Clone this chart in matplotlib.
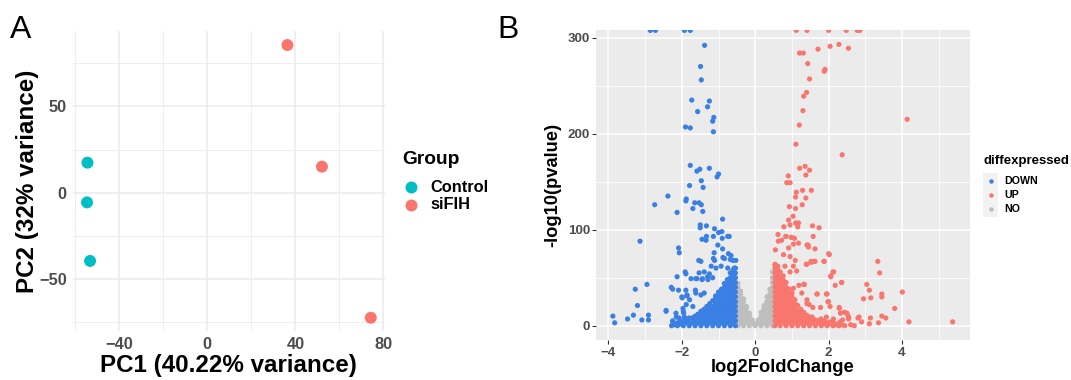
import matplotlib

matplotlib.use("Agg")
import matplotlib.pyplot as plt
from matplotlib.lines import Line2D
from matplotlib.patches import Rectangle

plt.rcParams["font.family"] = ["Liberation Sans", "DejaVu Sans"]

W, H = 1071, 380

# ---- panel A: PCA ----
pca_group = ["Control", "Control", "Control", "siFIH", "siFIH", "siFIH"]
pc1 = [-54.5, -54.7, -53.3, 36.4, 52.1, 74.3]
pc2 = [17.4, -5.6, -39.5, 85.5, 15.1, -72.4]
group_names = ["Control", "siFIH"]
group_colors = ["#00BFC4", "#F8766D"]

# ---- panel B: volcano (log2FoldChange, -log10 pvalue) ----
down_points = [
    (-2.86, 307.6), (-2.72, 307.6), (-1.93, 307.6), (-1.77, 307.6),
    (-1.38, 292), (-1.49, 270), (-1.47, 256), (-1.73, 235), (-1.25, 234),
    (-1.30, 228), (-1.57, 223), (-1.13, 217), (-1.16, 213), (-1.90, 207),
    (-1.77, 206), (-1.14, 202), (-1.77, 167), (-1.25, 164), (-1.51, 163),
    (-1.59, 161), (-1.00, 158), (-1.04, 155), (-1.47, 151), (-1.79, 146),
    (-1.42, 144), (-2.38, 135), (-1.88, 132), (-1.89, 130), (-1.65, 128),
    (-1.53, 128), (-1.47, 126), (-2.74, 126), (-2.13, 118), (-1.70, 122),
    (-1.43, 119), (-0.89, 111), (-1.50, 105), (-1.50, 102), (-1.33, 104),
    (-1.11, 101), (-1.00, 97), (-0.91, 98), (-0.71, 93), (-3.14, 88),
    (-1.45, 90), (-1.33, 93), (-1.14, 93), (-2.09, 81), (-2.07, 76),
    (-1.54, 68), (-1.48, 67), (-0.89, 80), (-1.12, 76), (-1.14, 70),
    (-0.88, 71), (-0.53, 68), (-0.73, 75), (-0.68, 69), (-1.91, 56),
    (-1.89, 54), (-2.13, 51), (-1.75, 49), (-1.59, 49), (-1.45, 48),
    (-1.29, 48), (-2.95, 43), (-3.27, 38), (-2.29, 40), (-2.25, 38),
    (-2.09, 37), (-1.89, 37), (-1.63, 37), (-2.00, 30), (-1.86, 31),
    (-3.21, 21), (-1.97, 18), (-2.43, 15), (-3.88, 10), (-3.32, 11),
    (-2.91, 11), (-3.83, 3), (-3.48, 7), (-3.09, 6), (-2.91, 6),
    (-2.25, 4), (-2.15, 9), (-1.95, 13), (-1.34, 89), (-1.02, 84),
    (-0.90, 91), (-0.75, 93), (-0.66, 73), (-0.61, 68), (-1.11, 68),
    (-0.84, 70), (-1.20, 62), (-1.07, 60), (-0.93, 62), (-0.75, 60),
    (-0.57, 60), (-1.53, 55), (-1.39, 56), (-1.25, 54), (-1.62, 49),
    (-1.44, 49), (-1.30, 51), (-1.16, 50), (-1.99, 29), (-1.86, 32),
    (-1.79, 27), (-1.62, 34), (-1.48, 32), (-1.39, 34), (-1.88, 22),
    (-1.70, 20), (-2.16, 13), (-1.96, 15), (-2.25, 5), (-2.07, 8),
    (-1.93, 9), (-2.43, 16),
]
down_core = {
    -0.54: [0, 5, 10, 15, 20, 25, 30, 35, 40, 45, 50, 55, 60],
    -0.61: [3, 8, 13, 18, 23, 28, 33, 38, 43, 48, 53, 58],
    -0.68: [0, 5, 10, 15, 20, 25, 30, 35, 40, 45, 50, 55],
    -0.76: [3, 8, 13, 18, 23, 28, 33, 38, 43, 48],
    -0.84: [0, 5, 10, 15, 20, 25, 30, 35, 40, 44],
    -0.92: [3, 8, 13, 18, 23, 28, 33, 38],
    -1.00: [0, 5, 10, 15, 20, 25, 30, 35],
    -1.08: [3, 8, 13, 18, 23, 28, 31],
    -1.16: [0, 5, 10, 15, 20, 26],
    -1.24: [3, 8, 13, 18, 23],
    -1.32: [0, 5, 10, 15, 20],
    -1.40: [3, 8, 13, 17],
    -1.48: [0, 5, 10, 15],
    -1.56: [3, 8, 12],
    -1.64: [0, 5, 10],
    -1.72: [3, 8],
    -1.80: [0, 5, 8],
    -1.88: [3, 6],
    -1.96: [0, 5],
    -2.04: [2, 4],
    -2.12: [0, 3],
    -2.20: [1],
    -2.28: [0],
}
up_points = [
    (1.12, 307.6), (1.41, 307.6), (2.00, 307.6), (2.48, 307.6), (2.78, 307.6),
    (2.85, 307.6), (1.21, 284), (1.31, 284), (1.71, 288), (2.04, 291),
    (2.28, 293), (2.54, 289), (1.43, 273), (1.90, 267), (1.88, 265),
    (1.48, 257), (1.40, 243), (1.32, 239), (1.30, 224), (1.20, 209),
    (1.11, 189), (4.14, 215), (2.37, 178), (0.90, 156), (0.86, 149),
    (0.95, 149), (1.21, 164), (1.36, 166), (1.48, 162), (1.38, 157),
    (1.12, 139), (1.29, 141), (1.53, 141), (1.38, 133), (1.10, 134),
    (1.28, 126), (0.93, 124), (1.10, 122), (1.03, 114), (0.91, 110),
    (1.10, 107), (1.18, 107), (0.95, 105), (0.78, 103), (1.16, 103),
    (1.56, 104), (1.74, 102), (0.62, 95), (0.84, 93), (0.98, 92),
    (1.07, 91), (1.58, 93), (1.44, 84), (1.45, 82), (1.63, 80),
    (2.02, 74), (1.39, 64), (1.53, 66), (1.63, 67), (1.88, 67),
    (3.34, 67), (3.39, 55), (2.06, 52), (2.12, 56), (2.18, 42),
    (2.36, 45), (3.04, 43), (3.11, 37), (3.45, 33), (3.45, 30),
    (3.15, 29), (2.95, 28), (4.01, 35), (1.69, 33), (1.94, 33),
    (1.34, 43), (2.00, 25), (2.04, 20), (1.57, 19), (1.41, 23),
    (2.29, 18), (2.43, 14), (3.80, 18), (2.53, 10), (2.83, 9),
    (3.45, 10), (3.56, 8), (3.14, 8), (4.19, 4), (5.38, 4),
    (2.90, 4), (3.11, 2), (3.36, 3), (2.32, 4), (2.18, 2),
    (2.54, 7), (2.13, 7), (2.38, 6), (1.79, 7), (2.80, 8),
    (0.55, 79), (0.63, 88), (0.72, 89), (0.83, 93), (0.99, 92),
    (1.04, 85), (1.18, 86), (0.91, 81), (1.41, 84), (2.00, 75),
    (0.77, 74), (0.95, 72), (1.09, 68), (1.41, 64), (1.52, 67),
    (1.61, 67), (1.87, 67), (0.54, 63), (0.60, 60), (0.81, 62),
    (0.95, 56), (1.04, 62), (1.13, 57), (2.14, 56), (2.06, 51),
    (2.35, 45), (1.19, 42), (1.32, 43), (1.04, 39), (1.27, 34),
    (1.68, 33), (1.96, 33), (1.41, 27), (1.47, 22), (1.98, 25),
    (1.78, 19), (2.29, 19), (2.32, 13), (2.50, 13), (1.27, 11),
    (1.55, 9), (1.94, 9), (2.55, 8),
]
up_core = {
    0.54: [0, 5, 10, 15, 20, 25, 30, 35, 40, 45, 50, 55, 60, 64],
    0.61: [3, 8, 13, 18, 23, 28, 33, 38, 43, 48, 53, 58, 62],
    0.68: [0, 5, 10, 15, 20, 25, 30, 35, 40, 45, 50, 56],
    0.76: [3, 8, 13, 18, 23, 28, 33, 38, 43, 48, 52],
    0.84: [0, 5, 10, 15, 20, 25, 30, 35, 40, 45],
    0.92: [3, 8, 13, 18, 23, 28, 33, 38],
    1.00: [0, 5, 10, 15, 20, 25, 30, 34],
    1.08: [3, 8, 13, 18, 23, 27],
    1.16: [0, 5, 10, 15, 21],
    1.24: [3, 8, 13, 17],
    1.32: [0, 5, 10, 14],
    1.40: [3, 8, 11],
    1.48: [0, 5, 9],
    1.56: [3, 7],
    1.64: [0, 6],
    1.72: [3, 5],
    1.80: [0, 4],
    1.88: [2, 5],
    1.96: [0, 3],
    2.04: [2, 4],
    2.12: [0, 3],
    2.20: [1],
    2.28: [0, 2],
    2.36: [1],
    2.44: [0],
    2.60: [1],
    2.70: [0],
}
no_core = {
    -0.47: [0, 5, 10, 15, 20, 25, 30, 35, 40, 44],
    -0.40: [3, 8, 13, 18, 23, 28, 33, 36],
    -0.32: [0, 5, 10, 15, 20, 25, 28],
    -0.24: [3, 8, 13, 18, 20],
    -0.16: [0, 5, 10, 13],
    -0.08: [2, 6],
    0.00: [0, 2],
    0.08: [2, 6],
    0.16: [0, 5, 10, 14],
    0.24: [3, 8, 13, 18, 21],
    0.32: [0, 5, 10, 15, 20, 25, 30],
    0.40: [3, 8, 13, 18, 23, 28, 33, 38],
    0.47: [0, 5, 10, 15, 20, 25, 30, 35, 40, 45, 50, 56],
}
diff_levels = ["DOWN", "UP", "NO"]
diff_colors = ["#3A7FE3", "#F8766D", "#BEBEBE"]


def unpack(points, core):
    xs = [p[0] for p in points]
    ys = [p[1] for p in points]
    for x, col in core.items():
        xs += [x] * len(col)
        ys += col
    return xs, ys


def fx(px):
    return px / W


def fy(py):
    return 1 - py / H


fig = plt.figure(figsize=(W / 100, H / 100), dpi=100)

# ---------------- A ----------------
axA = fig.add_axes([fx(72.7), fy(331.4), 312.4 / W, 300 / H])
axA.set_xlim(-61.2, 80.8)
axA.set_ylim(-80.3, 93.4)
for s in axA.spines.values():
    s.set_visible(False)
axA.set_xticks([-40, 0, 40, 80])
axA.set_yticks([-50, 0, 50])
axA.set_xticks([-60, -20, 20, 60], minor=True)
axA.set_yticks([-75, -25, 25, 75], minor=True)
axA.grid(True, which="major", color="#EBEBEB", lw=1.1)
axA.grid(True, which="minor", color="#EBEBEB", lw=0.6)
axA.set_axisbelow(True)
axA.tick_params(which="both", length=0, pad=4.3, labelsize=11.8, labelcolor="#4D4D4D")
for lab in axA.get_xticklabels() + axA.get_yticklabels():
    lab.set_fontweight("bold")
for g, c in zip(group_names, group_colors):
    xs = [x for x, gg in zip(pc1, pca_group) if gg == g]
    ys = [y for y, gg in zip(pc2, pca_group) if gg == g]
    axA.scatter(xs, ys, s=74, color=c, edgecolors="none", zorder=3)
axA.set_xlabel("PC1 (40.22% variance)", fontsize=17.4, fontweight="bold", va="center")
axA.xaxis.set_label_coords(0.5, -0.115)
axA.set_ylabel("PC2 (32% variance)", fontsize=17.4, fontweight="bold", va="center")
axA.yaxis.set_label_coords(-0.145, 0.5)

# legend A
fig.text(fx(402), fy(160), "Group", fontsize=13.8, fontweight="bold", va="center")
for i, (g, c) in enumerate(zip(group_names, group_colors)):
    yy = 187 + i * 17.7
    fig.add_artist(Line2D([fx(410.7)], [fy(yy)], marker="o", ms=8.6, color=c,
                          mec="none", transform=fig.transFigure))
    fig.text(fx(430), fy(yy), g, fontsize=11.8, fontweight="bold", va="center")

# ---------------- B ----------------
axB = fig.add_axes([fx(596), fy(340), 373.5 / W, 310 / H])
axB.set_facecolor("#EBEBEB")
for s in axB.spines.values():
    s.set_visible(False)
axB.set_xlim(-4.34, 5.84)
axB.set_ylim(-14.9, 308)
axB.set_xticks([-4, -2, 0, 2, 4])
axB.set_yticks([0, 100, 200, 300])
axB.set_xticks([-3, -1, 1, 3, 5], minor=True)
axB.set_yticks([50, 150, 250], minor=True)
axB.grid(True, which="major", color="white", lw=1.1)
axB.grid(True, which="minor", color="white", lw=0.55)
axB.set_axisbelow(True)
axB.tick_params(which="major", length=2.75, width=0.8, color="#333333",
                labelsize=9.6, labelcolor="#4D4D4D")
axB.tick_params(axis="y", pad=1.5)
axB.tick_params(axis="x", pad=2)
axB.tick_params(which="minor", length=0)
for lab in axB.get_xticklabels() + axB.get_yticklabels():
    lab.set_fontweight("bold")

nx, ny = unpack([], no_core)
dx, dy = unpack(down_points, down_core)
ux, uy = unpack(up_points, up_core)
axB.scatter(nx, ny, s=14, color=diff_colors[2], edgecolors="none", zorder=2)
axB.scatter(dx, dy, s=14, color=diff_colors[0], edgecolors="none", zorder=2)
axB.scatter(ux, uy, s=14, color=diff_colors[1], edgecolors="none", zorder=2)

axB.set_xlabel("log2FoldChange", fontsize=13.2, fontweight="bold", va="center")
axB.xaxis.set_label_coords(0.5, (340 - 368) / 310)
axB.set_ylabel("-log10(pvalue)", fontsize=13.2, fontweight="bold", va="center")
axB.yaxis.set_label_coords((553 - 596) / 373.5, 0.5)

# legend B
fig.text(fx(983), fy(161), "diffexpressed", fontsize=9.5, fontweight="bold", va="center")
fig.add_artist(Rectangle((fx(983.3), fy(216.7)), 15 / W, 44 / H, facecolor="#F2F2F2",
                         edgecolor="none", transform=fig.transFigure))
for i, (lv, c) in enumerate(zip(diff_levels, diff_colors)):
    yy = 181 + i * 14.2
    fig.add_artist(Line2D([fx(990.7)], [fy(yy)], marker="o", ms=3.2, color=c,
                          mec="none", transform=fig.transFigure))
    fig.text(fx(1004.3), fy(yy), lv, fontsize=7.7, fontweight="bold", va="center")

# panel tags
fig.text(fx(10), fy(38), "A", fontsize=23, va="baseline")
fig.text(fx(497), fy(38), "B", fontsize=23, va="baseline")

fig.savefig("out.png", dpi=100)
